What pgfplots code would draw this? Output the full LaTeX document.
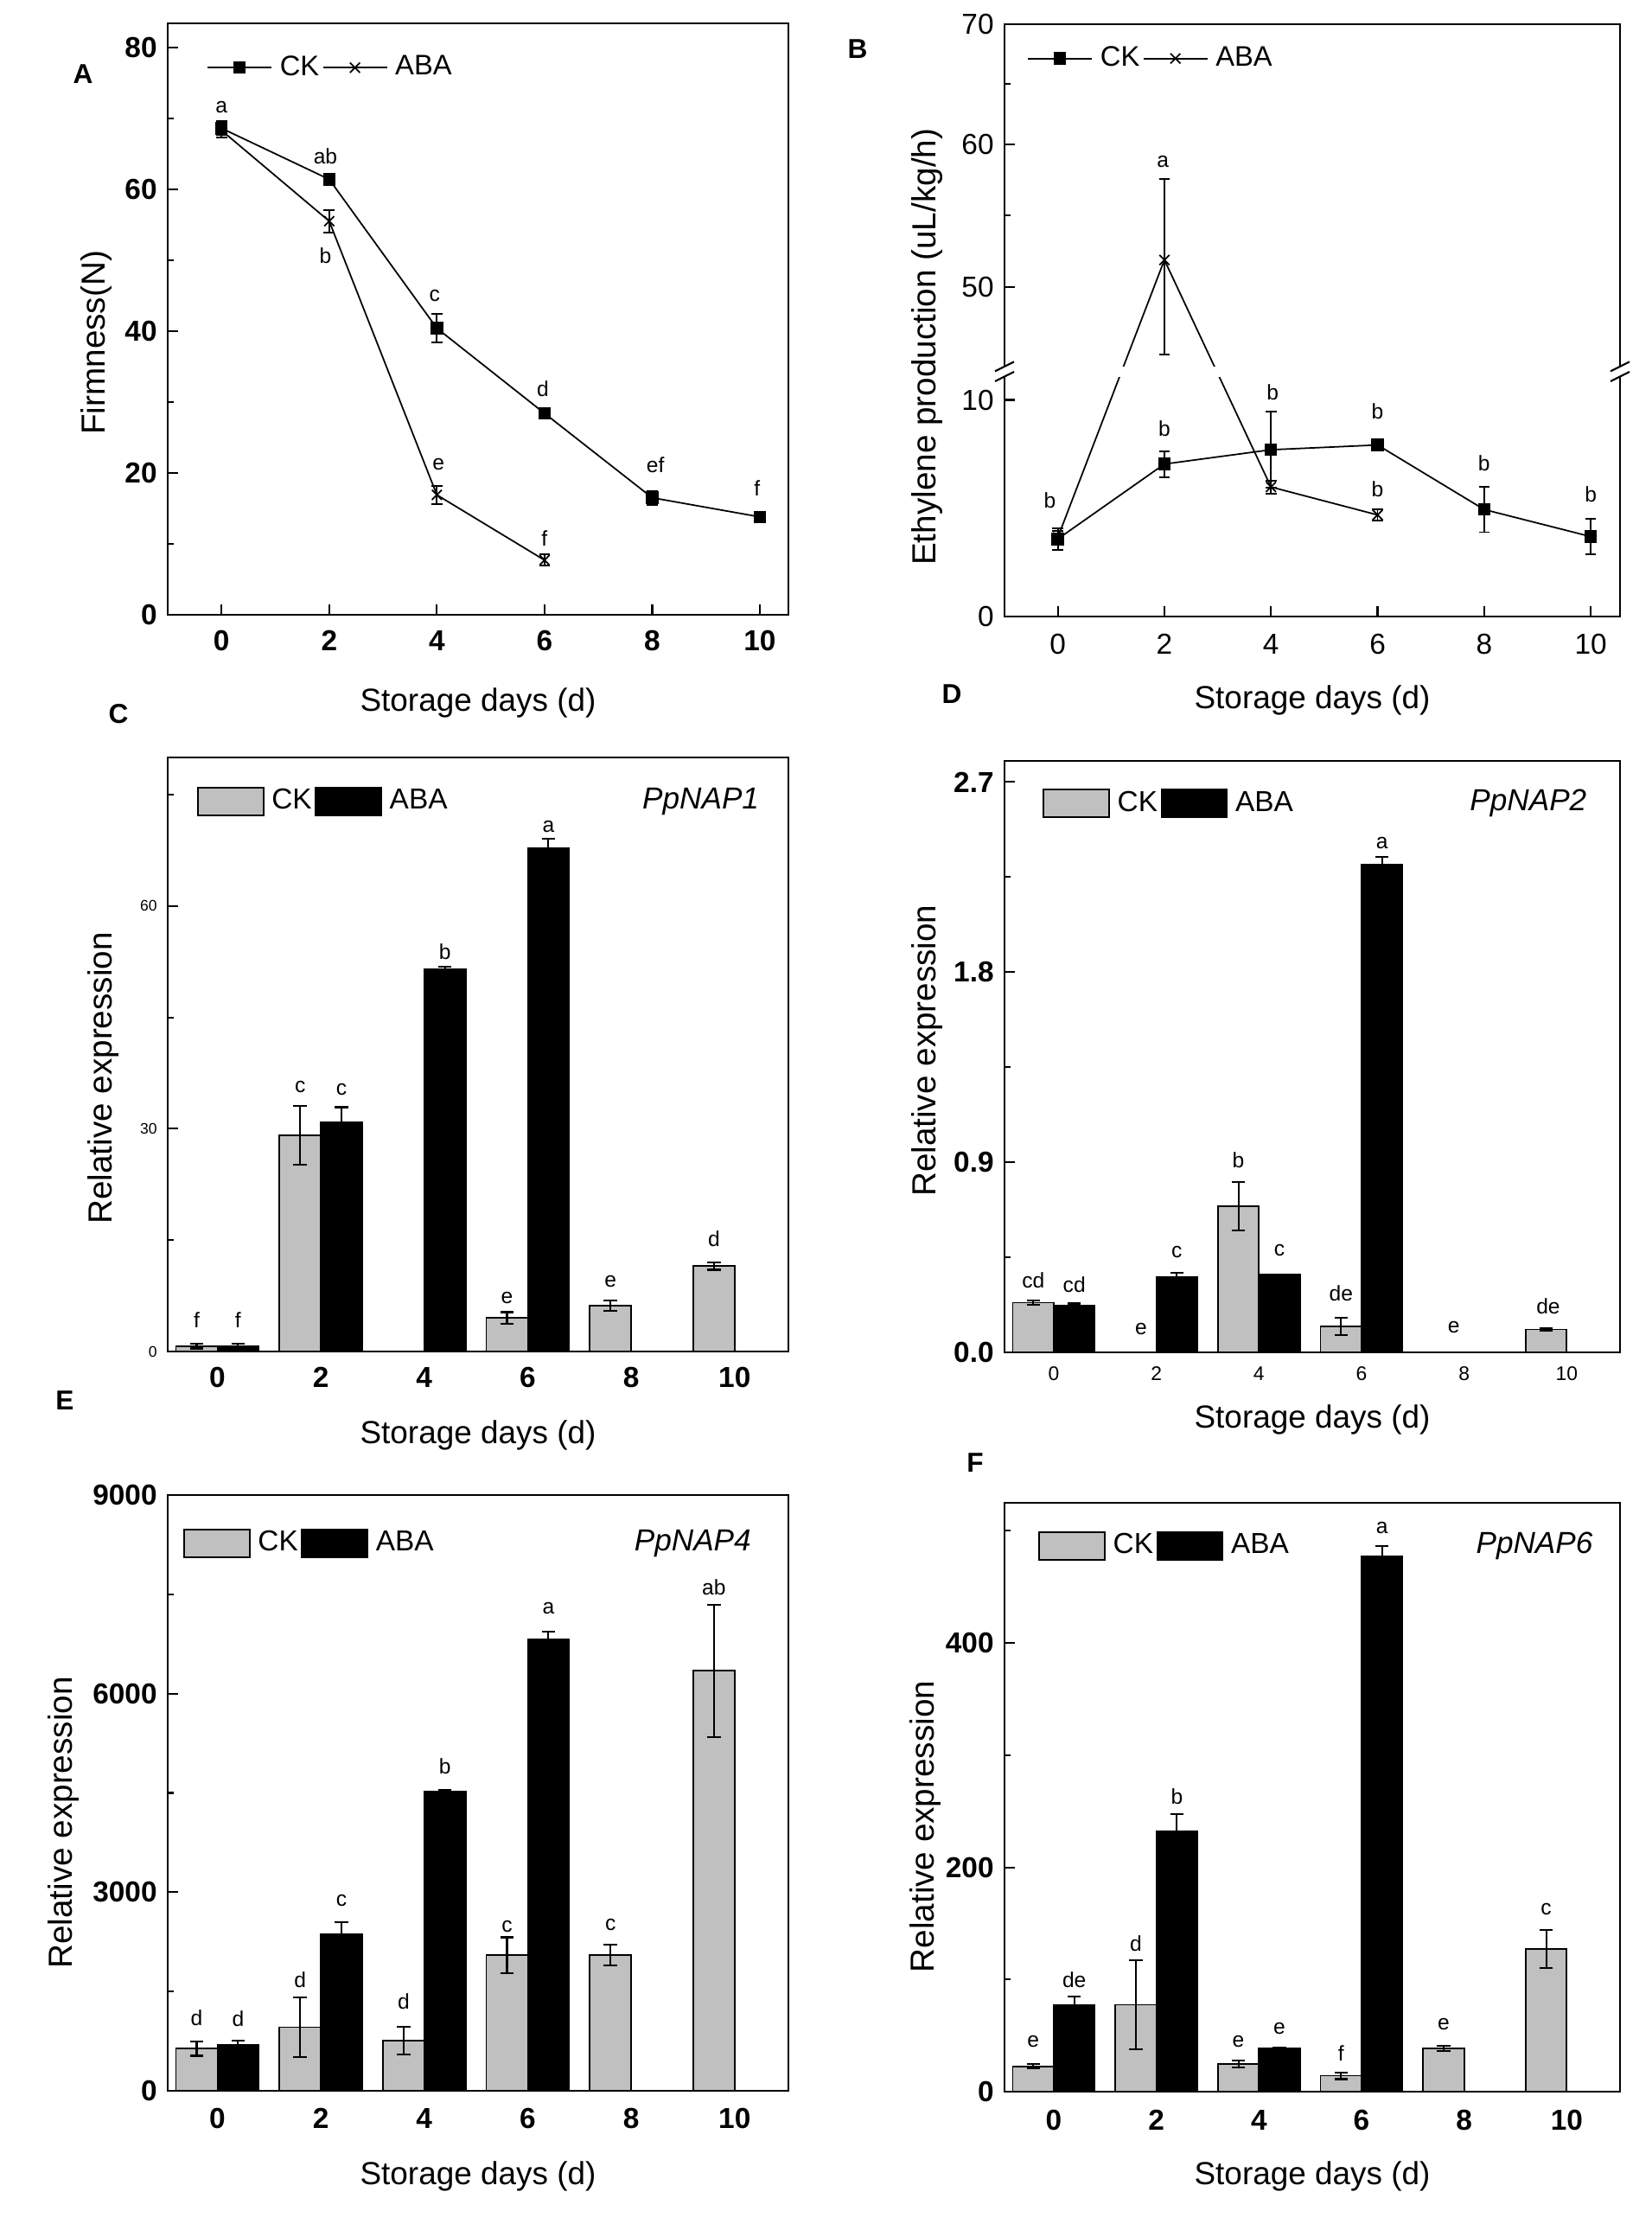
\documentclass[border=0pt]{standalone}
\usepackage{fontspec}
\setmainfont{Liberation Sans}
\usepackage{pgfplots}
\pgfplotsset{compat=1.18}
\definecolor{barg}{RGB}{192,192,192}
\newcommand{\fs}[1]{\fontsize{#1}{#1}\selectfont}
\newcommand{\lab}[3]{\node[font=\fs{7}, inner sep=0pt] at (axis cs:#1,#2) {#3};}
\pgfplotsset{
  base/.style={
    scale only axis, clip=false, anchor=south west,
    axis line style={line width=0.8pt},
    tick align=inside, tick pos=left,
    major tick length=3.5pt, minor tick length=2pt,
    tick style={black, line width=0.6pt},
    /pgf/number format/assume math mode=true,
    /pgf/number format/1000 sep={},
    xlabel={Storage days (d)},
    ylabel={Relative expression},
    ylabel style={font=\fs{11}, anchor=center},
    xlabel style={font=\fs{10.5}, anchor=center},
    legend style={draw=none, fill=none, inner sep=0pt, outer sep=0pt, anchor=west,
      font=\fs{9.5}, legend columns=-1, column sep=0pt,
      nodes={inner sep=1pt},
      /tikz/every odd column/.append style={column sep=1.5pt}},
  },
  lineleg/.style={legend style={font=\fs{9.3}}, legend image code/.code={\draw[mark repeat=2,mark phase=2,##1] plot coordinates {(0cm,0cm) (0.37cm,0cm) (0.74cm,0cm)};}},
  barleg/.style={legend image code/.code={\draw[##1] (0cm,-0.16cm) rectangle (0.76cm,0.16cm);}},
  barax/.style={base, barleg, xmin=-0.96, xmax=11.04, ymin=0,
    xtick={0,2,4,6,8,10}, xtick style={draw=none}},
  ckbar/.style={ybar, bar width=0.8, bar shift=0pt, x filter/.expression={x-0.4},
    fill=barg, draw=black, line width=0.5pt, forget plot,
    error bars/.cd, y dir=both, y explicit, error bar style={line width=0.6pt, black},
    error mark options={rotate=90, mark size=2.2pt, line width=0.6pt, black}},
  ababar/.style={ybar, bar width=0.8, bar shift=0pt, x filter/.expression={x+0.4},
    fill=black, draw=black, line width=0.5pt, forget plot,
    error bars/.cd, y dir=both, y explicit, error bar style={line width=0.6pt, black},
    error mark options={rotate=90, mark size=2.2pt, line width=0.6pt, black}},
  ckline/.style={black, line width=0.5pt, mark=square*, mark size=1.8pt, forget plot,
    error bars/.cd, y dir=both, y explicit, error bar style={line width=0.5pt, black},
    error mark options={rotate=90, mark size=1.8pt, line width=0.5pt, black}},
  abaline/.style={black, line width=0.5pt, mark=x, mark size=2.3pt, forget plot,
    error bars/.cd, y dir=both, y explicit, error bar style={line width=0.5pt, black},
    error mark options={rotate=90, mark size=1.8pt, line width=0.5pt, black}},
}
\begin{document}
\begin{tikzpicture}
\path[use as bounding box] (0,0) rectangle (19.10,25.79);

% ---------------- A ----------------
\begin{axis}[base, lineleg, at={(1.94cm,18.68cm)}, width=7.18cm, height=6.84cm,
  xmin=-1, xmax=10.53, ymin=0, ymax=83.4,
  xtick={0,2,4,6,8,10}, ytick={0,20,40,60,80}, minor ytick={10,30,50,70},
  xticklabel style={font=\fs{9.5}\bfseries, anchor=center, yshift=-0.30cm},
  yticklabel style={font=\fs{9.5}\bfseries},
  ylabel={Firmness(N)},
  xlabel style={at={(axis description cs:0.5,-0.149)}},
  ylabel style={at={(axis description cs:-0.1156,0.46)}},
  legend style={at={(0.063,0.925)}}]
\addlegendimage{black, line width=0.5pt, mark=square*, mark size=1.8pt}
\addlegendentry{CK}
\addlegendimage{black, line width=0.5pt, mark=x, mark size=2.3pt}
\addlegendentry{ABA}
\addplot[abaline] coordinates {(0,68.3) +- (0,1.0) (2,55.5) +- (0,1.6) (4,16.9) +- (0,1.3) (6,7.7) +- (0,0.8)};
\addplot[ckline] coordinates {(0,68.6) +- (0,1.0) (2,61.4) +- (0,0.6) (4,40.4) +- (0,2.0) (6,28.4) +- (0,0.5) (8,16.5) +- (0,1.0) (10,13.8) +- (0,0.6)};
\lab{0}{71.6}{a}
\lab{1.93}{64.7}{ab}
\lab{1.93}{50.6}{b}
\lab{3.96}{45}{c}
\lab{5.97}{31.8}{d}
\lab{4.03}{21.2}{e}
\lab{8.06}{21.1}{ef}
\lab{9.95}{17.9}{f}
\lab{6.0}{10.8}{f}
\end{axis}

% ---------------- B ----------------
\begin{axis}[base, lineleg, at={(11.62cm,18.66cm)}, width=7.12cm, height=6.85cm,
  y coord trafo/.code={\pgfmathparse{ifthenelse(#1<=11.15,#1,ifthenelse(#1<=60,11.15+(#1-43.85)*0.6604,21.815+(#1-60)*0.554))}},
  y coord inv trafo/.code={\pgfmathparse{ifthenelse(#1<=11.15,#1,ifthenelse(#1<=21.815,43.85+(#1-11.15)/0.6604,60+(#1-21.815)/0.554))}},
  xmin=-1, xmax=10.55, ymin=0, ymax=70,
  xtick={0,2,4,6,8,10}, ytick={0,10,50,60,70}, yticklabels={0,10,50,60,70},
  minor ytick={55,65},
  xticklabel style={font=\fs{9.5}, anchor=center, yshift=-0.32cm},
  yticklabel style={font=\fs{9.5}},
  ylabel={Ethylene production (uL/kg/h)},
  xlabel style={at={(axis description cs:0.5,-0.1416)}},
  ylabel style={at={(axis description cs:-0.1264,0.455)}},
  legend style={at={(0.037,0.942)}}]
\addlegendimage{black, line width=0.5pt, mark=square*, mark size=1.8pt}
\addlegendentry{CK}
\addlegendimage{black, line width=0.5pt, mark=x, mark size=2.3pt}
\addlegendentry{ABA}
% the error of the day-2 point is given in the broken-axis display units (57.6 top, 45.3 bottom)
\addplot[abaline] coordinates {(0,3.65) +- (0,0.3) (2,51.9) += (0,3.75) -= (0,4.38) (4,5.98) +- (0,0.3) (6,4.69) +- (0,0.25)};
\addplot[ckline] coordinates {(0,3.58) +- (0,0.5) (2,7.04) +- (0,0.6) (4,7.7) +- (0,1.75) (6,7.92) +- (0,0.25) (8,4.94) +- (0,1.05) (10,3.69) +- (0,0.83)};
\lab{-0.15}{5.35}{b}
\lab{1.97}{58.8}{a}
\lab{2.0}{8.69}{b}
\lab{4.03}{10.35}{b}
\lab{6.0}{9.48}{b}
\lab{6.0}{5.9}{b}
\lab{8.0}{7.08}{b}
\lab{10.0}{5.63}{b}
\fill[white] ([xshift=-0.2cm]axis description cs:0,0.405) rectangle ([xshift=0.2cm]axis description cs:1,0.422);
\draw[line width=0.6pt] ([xshift=-0.11cm,yshift=-0.055cm]axis description cs:0,0.405) -- ([xshift=0.11cm,yshift=0.055cm]axis description cs:0,0.405);
\draw[line width=0.6pt] ([xshift=-0.11cm,yshift=-0.055cm]axis description cs:0,0.422) -- ([xshift=0.11cm,yshift=0.055cm]axis description cs:0,0.422);
\draw[line width=0.6pt] ([xshift=-0.11cm,yshift=-0.055cm]axis description cs:1,0.405) -- ([xshift=0.11cm,yshift=0.055cm]axis description cs:1,0.405);
\draw[line width=0.6pt] ([xshift=-0.11cm,yshift=-0.055cm]axis description cs:1,0.422) -- ([xshift=0.11cm,yshift=0.055cm]axis description cs:1,0.422);
\end{axis}

% ---------------- C ----------------
\begin{axis}[barax, at={(1.94cm,10.16cm)}, width=7.18cm, height=6.87cm,
  ymax=80, ytick={0,30,60}, minor ytick={15,45,75},
  xticklabel style={font=\fs{9.5}\bfseries, anchor=center, yshift=-0.30cm},
  yticklabel style={font=\fs{5}},
  xlabel style={at={(axis description cs:0.5,-0.1412)}},
  ylabel style={at={(axis description cs:-0.1031,0.46)}},
  legend style={at={(0.047,0.926)}}]
\addlegendimage{fill=barg, draw=black, line width=0.5pt}
\addlegendentry{CK}
\addlegendimage{fill=black, draw=black, line width=0.5pt}
\addlegendentry{ABA}
\addplot[ckbar] coordinates {(0,0.7) +- (0,0.3) (2,29.1) +- (0,4.0) (6,4.5) +- (0,0.8) (8,6.2) +- (0,0.7) (10,11.5) +- (0,0.5)};
\addplot[ababar] coordinates {(0,0.7) +- (0,0.3) (2,30.9) +- (0,2.0) (4,51.5) +- (0,0.3) (6,67.8) +- (0,1.3)};
\node[font=\fs{10}\itshape, anchor=east] at (axis description cs:0.97,0.926) {PpNAP1};
\lab{-0.4}{4.2}{f}
\lab{0.4}{4.2}{f}
\lab{1.6}{35.6}{c}
\lab{2.4}{35.3}{c}
\lab{4.4}{53.8}{b}
\lab{5.6}{7.2}{e}
\lab{6.4}{70.7}{a}
\lab{7.6}{9.4}{e}
\lab{9.6}{15.2}{d}
\end{axis}

% ---------------- D ----------------
\begin{axis}[barax, at={(11.62cm,10.15cm)}, width=7.12cm, height=6.84cm,
  ymax=2.8, ytick={0,0.9,1.8,2.7}, yticklabels={0.0,0.9,1.8,2.7}, minor ytick={0.45,1.35,2.25},
  xticklabel style={font=\fs{6.5}, anchor=center, yshift=-0.25cm},
  yticklabel style={font=\fs{9.5}\bfseries},
  xlabel style={at={(axis description cs:0.5,-0.114)}},
  ylabel style={at={(axis description cs:-0.1264,0.51)}},
  legend style={at={(0.062,0.928)}}]
\addlegendimage{fill=barg, draw=black, line width=0.5pt}
\addlegendentry{CK}
\addlegendimage{fill=black, draw=black, line width=0.5pt}
\addlegendentry{ABA}
\addplot[ckbar] coordinates {(0,0.235) +- (0,0.01) (4,0.692) +- (0,0.115) (6,0.122) +- (0,0.04) (10,0.108) +- (0,0.005)};
\addplot[ababar] coordinates {(0,0.223) +- (0,0.008) (2,0.357) +- (0,0.02) (4,0.368) +- (0,0.0) (6,2.31) +- (0,0.035)};
\node[font=\fs{10}\itshape, anchor=east] at (axis description cs:0.963,0.928) {PpNAP2};
\lab{-0.4}{0.342}{cd}
\lab{0.4}{0.319}{cd}
\lab{1.7}{0.11}{e}
\lab{2.4}{0.476}{c}
\lab{3.6}{0.91}{b}
\lab{4.4}{0.481}{c}
\lab{5.6}{0.28}{de}
\lab{6.4}{2.41}{a}
\lab{7.8}{0.12}{e}
\lab{9.64}{0.218}{de}
\end{axis}

% ---------------- E ----------------
\begin{axis}[barax, at={(1.94cm,1.61cm)}, width=7.18cm, height=6.89cm,
  ymax=9000, ytick={0,3000,6000,9000}, minor ytick={1500,4500,7500},
  xticklabel style={font=\fs{9.5}\bfseries, anchor=center, yshift=-0.32cm},
  yticklabel style={font=\fs{9.5}\bfseries},
  xlabel style={at={(axis description cs:0.5,-0.1437)}},
  ylabel style={at={(axis description cs:-0.1685,0.45)}},
  legend style={at={(0.025,0.919)}}]
\addlegendimage{fill=barg, draw=black, line width=0.5pt}
\addlegendentry{CK}
\addlegendimage{fill=black, draw=black, line width=0.5pt}
\addlegendentry{ABA}
\addplot[ckbar] coordinates {(0,639) +- (0,110) (2,961) +- (0,455) (4,757) +- (0,210) (6,2049) +- (0,270) (8,2049) +- (0,155) (10,6345) +- (0,1000)};
\addplot[ababar] coordinates {(0,693) +- (0,70) (2,2372) +- (0,180) (4,4516) +- (0,30) (6,6817) +- (0,115)};
\node[font=\fs{10}\itshape, anchor=east] at (axis description cs:0.957,0.919) {PpNAP4};
\lab{-0.4}{1103}{d}
\lab{0.4}{1087}{d}
\lab{1.6}{1670}{d}
\lab{2.4}{2876}{c}
\lab{3.6}{1355}{d}
\lab{4.4}{4901}{b}
\lab{5.6}{2482}{c}
\lab{6.4}{7289}{a}
\lab{7.6}{2506}{c}
\lab{9.6}{7604}{ab}
\end{axis}

% ---------------- F ----------------
\begin{axis}[barax, at={(11.62cm,1.60cm)}, width=7.12cm, height=6.81cm,
  ymax=525, ytick={0,200,400}, minor ytick={100,300,500},
  xticklabel style={font=\fs{9.5}\bfseries, anchor=center, yshift=-0.33cm},
  yticklabel style={font=\fs{9.5}\bfseries},
  xlabel style={at={(axis description cs:0.5,-0.1439)}},
  ylabel style={at={(axis description cs:-0.1292,0.45)}},
  legend style={at={(0.055,0.927)}}]
\addlegendimage{fill=barg, draw=black, line width=0.5pt}
\addlegendentry{CK}
\addlegendimage{fill=black, draw=black, line width=0.5pt}
\addlegendentry{ABA}
\addplot[ckbar] coordinates {(0,22.5) +- (0,2) (2,77.5) +- (0,40) (4,24.8) +- (0,3) (6,14.2) +- (0,3) (8,38.5) +- (0,2.5) (10,127) +- (0,17)};
\addplot[ababar] coordinates {(0,77.5) +- (0,7) (2,232) +- (0,15.6) (4,38.5) +- (0,1) (6,477.5) +- (0,9)};
\node[font=\fs{10}\itshape, anchor=east] at (axis description cs:0.973,0.927) {PpNAP6};
\lab{-0.4}{44.5}{e}
\lab{0.4}{99.5}{de}
\lab{1.6}{131.7}{d}
\lab{2.4}{263}{b}
\lab{3.6}{44.5}{e}
\lab{4.4}{56}{e}
\lab{5.6}{34}{f}
\lab{6.4}{503}{a}
\lab{7.6}{60.5}{e}
\lab{9.6}{163}{c}
\end{axis}

% panel letters
\node[font=\fs{9}\bfseries] at (0.96,24.93) {A};
\node[font=\fs{9}\bfseries] at (9.92,25.22) {B};
\node[font=\fs{9}\bfseries] at (1.37,17.53) {C};
\node[font=\fs{9}\bfseries] at (11.01,17.76) {D};
\node[font=\fs{9}\bfseries] at (0.75,9.59) {E};
\node[font=\fs{9}\bfseries] at (11.28,8.87) {F};
\end{tikzpicture}
\end{document}
